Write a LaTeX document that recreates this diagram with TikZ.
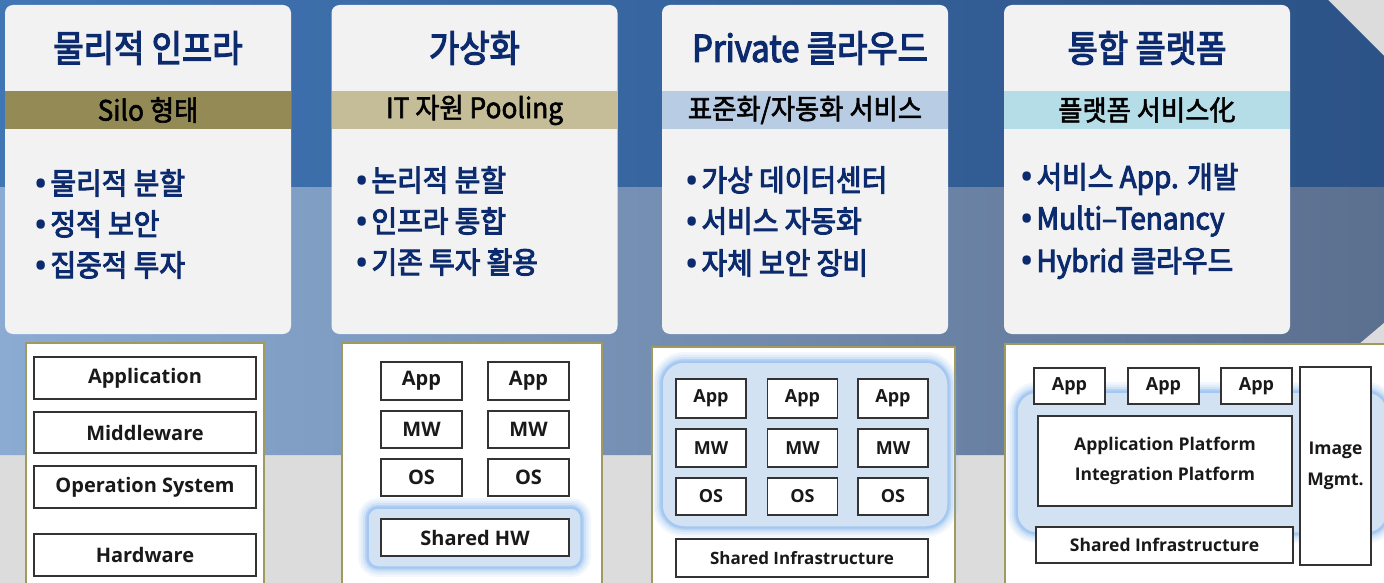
\documentclass[tikz,border=0pt]{standalone}
\usepackage{fontspec}
\newfontfamily\krtitle[FakeStretch=0.89, FakeBold=3.2]{Noto Sans CJK KR}
\newfontfamily\krbul[FakeStretch=0.93, FakeBold=3.2]{Noto Sans CJK KR}
\newfontfamily\krbar[FakeStretch=0.94, FakeBold=2]{Noto Sans CJK KR}
\newfontfamily\osans{Open Sans}
\definecolor{navy}{HTML}{0C2B6E}
\definecolor{bgray}{HTML}{DCDCDC}
\definecolor{topL}{HTML}{4176B5}
\definecolor{topR}{HTML}{2C5286}
\definecolor{lowL}{HTML}{8BABD3}
\definecolor{lowR}{HTML}{5B6F8E}
\definecolor{cardc}{HTML}{F2F2F2}
\definecolor{barA}{HTML}{938A56}
\definecolor{barB}{HTML}{C5BD98}
\definecolor{barC}{HTML}{B8CDE4}
\definecolor{barD}{HTML}{B5DDE8}
\definecolor{olive}{HTML}{A09A5E}
\definecolor{boxline}{HTML}{333333}
\definecolor{glowc}{HTML}{86B6EE}
\definecolor{glowfill}{HTML}{D3E2F3}
\newcommand\bu{{\osans\bfseries\fontsize{30pt}{30pt}\selectfont •}\hspace{4pt}}
\newcommand\glowrect[5]{%
  \foreach \w/\o in {20/0.10,15/0.14,10/0.2,6/0.3,3/0.4}
    \draw[glowc, line width=\w pt, opacity=\o, rounded corners=#5pt] (#1,#2) rectangle (#3,#4);
  \draw[glowc!75!white, fill=glowfill, line width=1.5pt, rounded corners=#5pt] (#1,#2) rectangle (#3,#4);}
\tikzset{
  card/.style={fill=cardc, rounded corners=8pt, minimum width=286pt, minimum height=329pt, inner sep=0pt},
  titletxt/.style={font=\krtitle\fontsize{37pt}{40pt}\selectfont, text=navy, inner sep=0pt},
  bar/.style={minimum width=286pt, minimum height=38pt, inner sep=0pt, font=\krbar\fontsize{28pt}{30pt}\selectfont, text=black},
  bul/.style={anchor=west, font=\krbul\fontsize{30pt}{32pt}\selectfont, text=navy, inner sep=0pt},
  wbox/.style={draw=olive, fill=white, line width=1.5pt},
  lay/.style={draw=boxline, fill=white, line width=1.8pt, inner sep=0pt, font=\osans\bfseries\fontsize{#1}{#1}\selectfont, text=black!90, align=center},
  lay/.default={20pt}
}
\begin{document}
\begin{tikzpicture}[x=1pt,y=-1pt]
\useasboundingbox (0,0) rectangle (1384,583);
% background
\fill[bgray] (0,0) rectangle (1384,583);
\begin{scope}
  \clip (0,0) -- (1328,0) -- (1392,64) -- (1392,316) -- (1340,360) -- (1340,455) -- (0,455) -- cycle;
  \shade[left color=topL, right color=topR] (0,0) rectangle (1392,187);
  \shade[left color=lowL, right color=lowR] (0,187) rectangle (1392,455);
\end{scope}

% cards
\node[card] (card1) at (148,169.5) {};
\node[card] (card2) at (474.5,169.5) {};
\node[card] (card3) at (805,169.5) {};
\node[card] (card4) at (1147,169.5) {};

\node[titletxt] (t1) at (148,48) {물리적 인프라};
\node[titletxt] (t2) at (474.5,48) {가상화};
\node[titletxt] (t3) at (810,48) {Private 클라우드};
\node[titletxt] (t4) at (1147,48) {통합 플랫폼};

\node[bar, fill=barA] (b1) at (148,110) {Silo 형태};
\node[bar, fill=barB] (b2) at (474.5,110) {IT 자원 Pooling};
\node[bar, fill=barC] (b3) at (805,110) {표준화/자동화 서비스};
\node[bar, fill=barD] (b4) at (1147,110) {플랫폼 서비스化};

\node[bul] (l11) at (35,183) {\bu 물리적 분할};
\node[bul] (l12) at (35,224) {\bu 정적 보안};
\node[bul] (l13) at (35,265) {\bu 집중적 투자};
\node[bul] (l21) at (356,180) {\bu 논리적 분할};
\node[bul] (l22) at (356,221) {\bu 인프라 통합};
\node[bul] (l23) at (356,262) {\bu 기존 투자 활용};
\node[bul] (l31) at (686,180) {\bu 가상 데이터센터};
\node[bul] (l32) at (686,221) {\bu 서비스 자동화};
\node[bul] (l33) at (686,263) {\bu 자체 보안 장비};
\node[bul] (l41) at (1021,179) {\bu 서비스 App. 개발};
\node[bul] (l42) at (1021,221) {\bu Multi–Tenancy};
\node[bul] (l43) at (1021,263) {\bu Hybrid 클라우드};

% white diagram panels
\draw[wbox] (26,343) rectangle (264,590);
\draw[wbox] (342,343) rectangle (602,590);
\draw[wbox] (652,347) rectangle (955,590);
\draw[wbox] (1005,344) rectangle (1392,590);

% panel 1
\node[lay, minimum width=222pt, minimum height=42pt] (p1a) at (145,378) {Application};
\node[lay, minimum width=222pt, minimum height=41pt] (p1m) at (145,432.5) {Middleware};
\node[lay, minimum width=222pt, minimum height=42pt] (p1o) at (145,487) {Operation System};
\node[lay, minimum width=222pt, minimum height=42pt] (p1h) at (145,555) {Hardware};

% panel 2
\glowrect{368}{508}{581}{567}{10}
\foreach \c/\x in {a/421.5,b/528.5}{
  \node[lay, minimum width=81pt, minimum height=38pt] (p2app\c) at (\x,381) {App};
  \node[lay, minimum width=81pt, minimum height=37pt] (p2mw\c) at (\x,429.5) {MW};
  \node[lay, minimum width=81pt, minimum height=37pt] (p2os\c) at (\x,477.5) {OS};
}
\node[lay, minimum width=188pt, minimum height=37pt] (p2hw) at (475,537.5) {Shared HW};

% panel 3
\glowrect{662}{362}{948}{527}{22}
\foreach \c/\x in {a/711,b/802.5,c/893}{
  \node[lay=18pt, minimum width=70pt, minimum height=39pt] (p3app\c) at (\x,398.5) {App};
  \node[lay=18pt, minimum width=70pt, minimum height=38pt] (p3mw\c) at (\x,448) {MW};
  \node[lay=18pt, minimum width=70pt, minimum height=37pt] (p3os\c) at (\x,496.5) {OS};
}
\node[lay=17pt, minimum width=252pt, minimum height=38pt] (p3si) at (802,558) {Shared Infrastructure};

% panel 4
\glowrect{1017}{392}{1387}{533}{20}
\foreach \c/\x in {a/1069.5,b/1163.5,c/1256.5}{
  \node[lay=18pt, minimum width=71pt, minimum height=36pt] (p4app\c) at (\x,386) {App};
}
\node[lay=17.5pt, minimum width=254pt, minimum height=90pt] (p4ap) at (1165,461) {Application Platform\\[12pt]Integration Platform};
\node[lay=17.5pt, minimum width=257pt, minimum height=36pt] (p4si) at (1164.5,545) {Shared Infrastructure};
\node[lay=17.5pt, minimum width=71pt, minimum height=198pt] (p4im) at (1335.5,466) {Image\\[14pt]Mgmt.};
\end{tikzpicture}
\end{document}
